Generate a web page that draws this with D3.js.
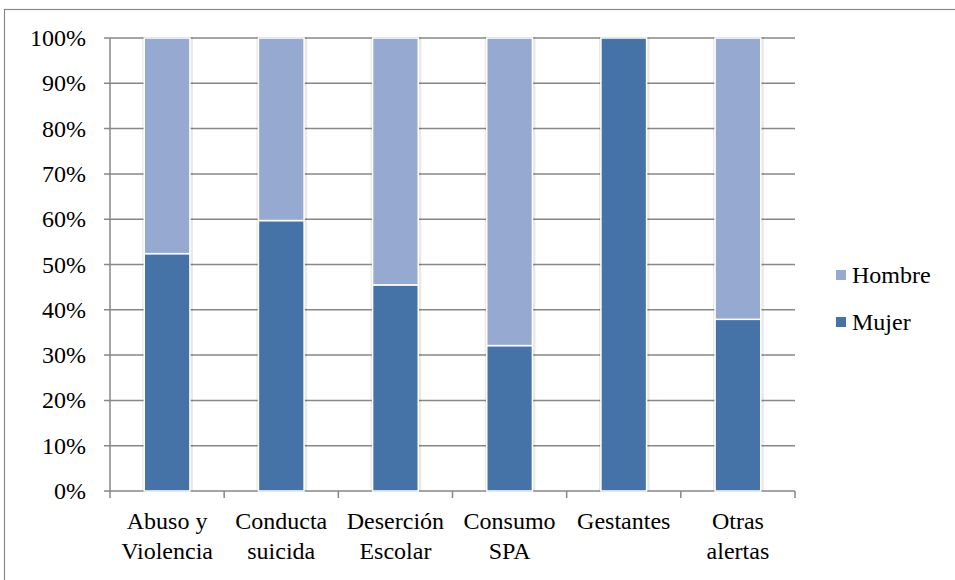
<!DOCTYPE html>
<html>
<head>
<meta charset="utf-8">
<script src="https://cdn.jsdelivr.net/npm/d3@7"></script>
<style>
  html, body { margin: 0; padding: 0; background: #fff; }
  svg { display: block; }
</style>
</head>
<body>
<svg id="chart" width="955" height="580"></svg>
<script>
// Alert categories (two-line labels) and the share by sex, in percent
const categories = [
  ["Abuso y", "Violencia"],
  ["Conducta", "suicida"],
  ["Deserción", "Escolar"],
  ["Consumo", "SPA"],
  ["Gestantes"],
  ["Otras", "alertas"]
];
const mujer  = [52.4, 59.7, 45.5, 32.1, 100, 37.9];
const hombre = [47.6, 40.3, 54.5, 67.9, 0, 62.1];
const seriesNames = ["Mujer", "Hombre"];
const yTicks = [0, 10, 20, 30, 40, 50, 60, 70, 80, 90, 100];

const colors = { Mujer: "#4572a7", Hombre: "#95a9d1" };
const gridColor = "#878787";
const FONT = '"Liberation Serif"';
const FS = 24;

const svg = d3.select("#chart");
const margin = { left: 110, right: 160, top: 38, bottom: 89 };
const W = 955, H = 580;
const x0 = margin.left, x1 = W - margin.right;
const y0 = H - margin.bottom, y1 = margin.top;

// Chart frame
svg.append("rect")
  .attr("x", 4.5).attr("y", 9.5)
  .attr("width", 1000).attr("height", 1000)
  .attr("fill", "none").attr("stroke", "#8a8a8a").attr("stroke-width", 1.2);

const rows = categories.map((c, i) => ({ key: i, Mujer: mujer[i], Hombre: hombre[i] }));

const x = d3.scaleBand().domain(rows.map(d => d.key))
  .range([x0, x1]).paddingInner(0.6).paddingOuter(0.3);
const y = d3.scaleLinear().domain([0, 100]).range([y0, y1]);

// Horizontal gridlines, each with a short tick left of the axis
svg.append("g").selectAll("line")
  .data(yTicks)
  .join("line")
  .attr("x1", x0 - 6).attr("x2", x1)
  .attr("y1", d => y(d)).attr("y2", d => y(d))
  .attr("stroke", gridColor).attr("stroke-width", 1.5);

// Percent labels on the value axis
svg.append("g").selectAll("text")
  .data(yTicks)
  .join("text")
  .attr("x", x0 - 24)
  .attr("y", d => y(d) + 8)
  .attr("text-anchor", "end")
  .attr("font-size", FS)
  .style("font-family", FONT)
  .text(d => d + "%");

// Vertical axis line
svg.append("line")
  .attr("x1", x0).attr("x2", x0).attr("y1", y1).attr("y2", y0)
  .attr("stroke", gridColor).attr("stroke-width", 1.5);

// Category separator ticks along the bottom
const sepScale = d3.scaleLinear().domain([0, categories.length]).range([x0, x1]);
svg.append("g").selectAll("line")
  .data(d3.range(categories.length + 1))
  .join("line")
  .attr("x1", d => sepScale(d)).attr("x2", d => sepScale(d))
  .attr("y1", y0).attr("y2", y0 + 7)
  .attr("stroke", gridColor).attr("stroke-width", 1.5);

// Stacked bars
const stack = d3.stack().keys(seriesNames)(rows);

// Faint halo behind each column
svg.append("g").selectAll("rect")
  .data(rows)
  .join("rect")
  .attr("x", d => x(d.key) - 2)
  .attr("width", x.bandwidth() + 5)
  .attr("y", y(100) - 1)
  .attr("height", y(0) - y(100) + 1)
  .attr("fill", "#000").attr("opacity", 0.09);

svg.append("g").selectAll("g")
  .data(stack)
  .join("g")
  .attr("fill", d => colors[d.key])
  .selectAll("rect")
  .data(d => d.filter(p => p[1] - p[0] > 0))
  .join("rect")
  .attr("x", d => x(d.data.key))
  .attr("width", x.bandwidth())
  .attr("y", d => y(d[1]))
  .attr("height", d => y(d[0]) - y(d[1]))
  .attr("stroke", "#fff").attr("stroke-width", 1.5);

// Category labels, one text per line
const labelLines = categories.flatMap((c, i) => c.map((t, j) => ({ i, j, t })));
svg.append("g").selectAll("text")
  .data(labelLines)
  .join("text")
  .attr("x", d => x(d.i) + x.bandwidth() / 2)
  .attr("y", d => 529 + d.j * 30)
  .attr("text-anchor", "middle")
  .attr("font-size", FS)
  .style("font-family", FONT)
  .text(d => d.t);

// Legend
const legendItems = ["Hombre", "Mujer"];
const lg = svg.append("g").selectAll("g")
  .data(legendItems)
  .join("g")
  .attr("transform", (d, i) => `translate(836,${270 + i * 47})`);
lg.append("rect").attr("width", 10).attr("height", 10)
  .attr("fill", d => colors[d]);
lg.append("text")
  .attr("x", 16).attr("y", 13)
  .attr("font-size", FS)
  .style("font-family", FONT)
  .text(d => d);
</script>
</body>
</html>
